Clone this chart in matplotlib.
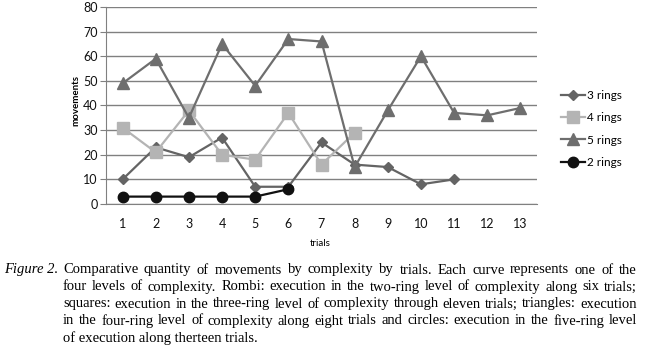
import numpy as np
import matplotlib
matplotlib.use("Agg")
import matplotlib.pyplot as plt

# data
trials = list(range(1, 14))
rings3 = [10, 23, 19, 27, 7, 7, 25, 16, 15, 8, 10]
rings4 = [31, 21, 38, 20, 18, 37, 16, 29]
rings5 = [49, 59, 35, 65, 48, 67, 66, 15, 38, 60, 37, 36, 39]
rings2 = [3, 3, 3, 3, 3, 6]
yticks = [0, 10, 20, 30, 40, 50, 60, 70, 80]

caption_lines = [
    "Comparative quantity of movements by complexity by trials. Each curve represents one of the",
    "four levels of complexity. Rombi: execution in the two-ring level of complexity along six trials;",
    "squares: execution in the three-ring level of complexity through eleven trials; triangles: execution",
    "in the four-ring level of complexity along eight trials and circles: execution in the five-ring level",
    "of execution along therteen trials.",
]

W, H = 647, 350
fig = plt.figure(figsize=(W / 100, H / 100), dpi=100)
ax = fig.add_axes([106 / W, 1 - 204 / H, (537 - 106) / W, (204 - 7) / H])

font = "Lato"
ax.plot(range(1, len(rings3) + 1), rings3, color="#646464", lw=1.6, marker="D", ms=5, label="3 rings", zorder=3)
ax.plot(range(1, len(rings4) + 1), rings4, color="#b4b4b4", lw=1.6, marker="s", ms=8.5, label="4 rings", zorder=3)
ax.plot(range(1, len(rings5) + 1), rings5, color="#6e6e6e", lw=1.6, marker="^", ms=8.5, label="5 rings", zorder=3)
ax.plot(range(1, len(rings2) + 1), rings2, color="#111111", lw=1.6, marker="o", ms=7.5, label="2 rings", zorder=4)

ax.set_xlim(0.5, 13.5)
ax.set_ylim(0, 80)
ax.set_yticks(yticks)
ax.set_xticks(trials)
ax.yaxis.grid(True, color="#808080", lw=1)
ax.set_axisbelow(True)
for s in ["top", "right"]:
    ax.spines[s].set_visible(False)
ax.spines["left"].set_color("#808080")
ax.spines["bottom"].set_color("#808080")
ax.tick_params(axis="y", length=4, color="#808080", labelsize=9, pad=2, labelcolor="#111111")
ax.tick_params(axis="x", length=0, labelsize=9, pad=10, labelcolor="#111111")
for lab in ax.get_xticklabels() + ax.get_yticklabels():
    lab.set_fontfamily(font)

fig.text(76 / W, 1 - 100 / H, "movements", rotation=90, ha="center", va="center",
         fontsize=7, fontweight="bold", family=font)
fig.text(320 / W, 1 - 244 / H, "trials", ha="center", va="center", fontsize=7, family=font)

leg = fig.legend(loc="center left", bbox_to_anchor=(550 / W, 1 - 129 / H), frameon=False,
                 handlelength=2.1, handletextpad=0.15, labelspacing=0.95,
                 prop={"family": font, "size": 8.5})

# caption, justified by hand
cap_size = 10.5
fig.text(58 / W, 1 - 270 / H, "Figure 2.", ha="right", va="center", style="italic",
         fontsize=cap_size, family="Liberation Serif")
renderer = fig.canvas.get_renderer()
x0, x1 = 63, 637
for i, line in enumerate(caption_lines):
    y = 1 - (270 + 17 * i) / H
    words = line.split()
    if i == len(caption_lines) - 1:
        fig.text(x0 / W, y, line, ha="left", va="center", fontsize=cap_size, family="Liberation Serif")
        continue
    texts = [fig.text(0, y, w, ha="left", va="center", fontsize=cap_size, family="Liberation Serif")
             for w in words]
    widths = [t.get_window_extent(renderer).width for t in texts]
    gap = (x1 - x0 - sum(widths)) / (len(words) - 1)
    x = x0
    for t, w in zip(texts, widths):
        t.set_x(x / W)
        x += w + gap

fig.savefig("out.png", dpi=100)
